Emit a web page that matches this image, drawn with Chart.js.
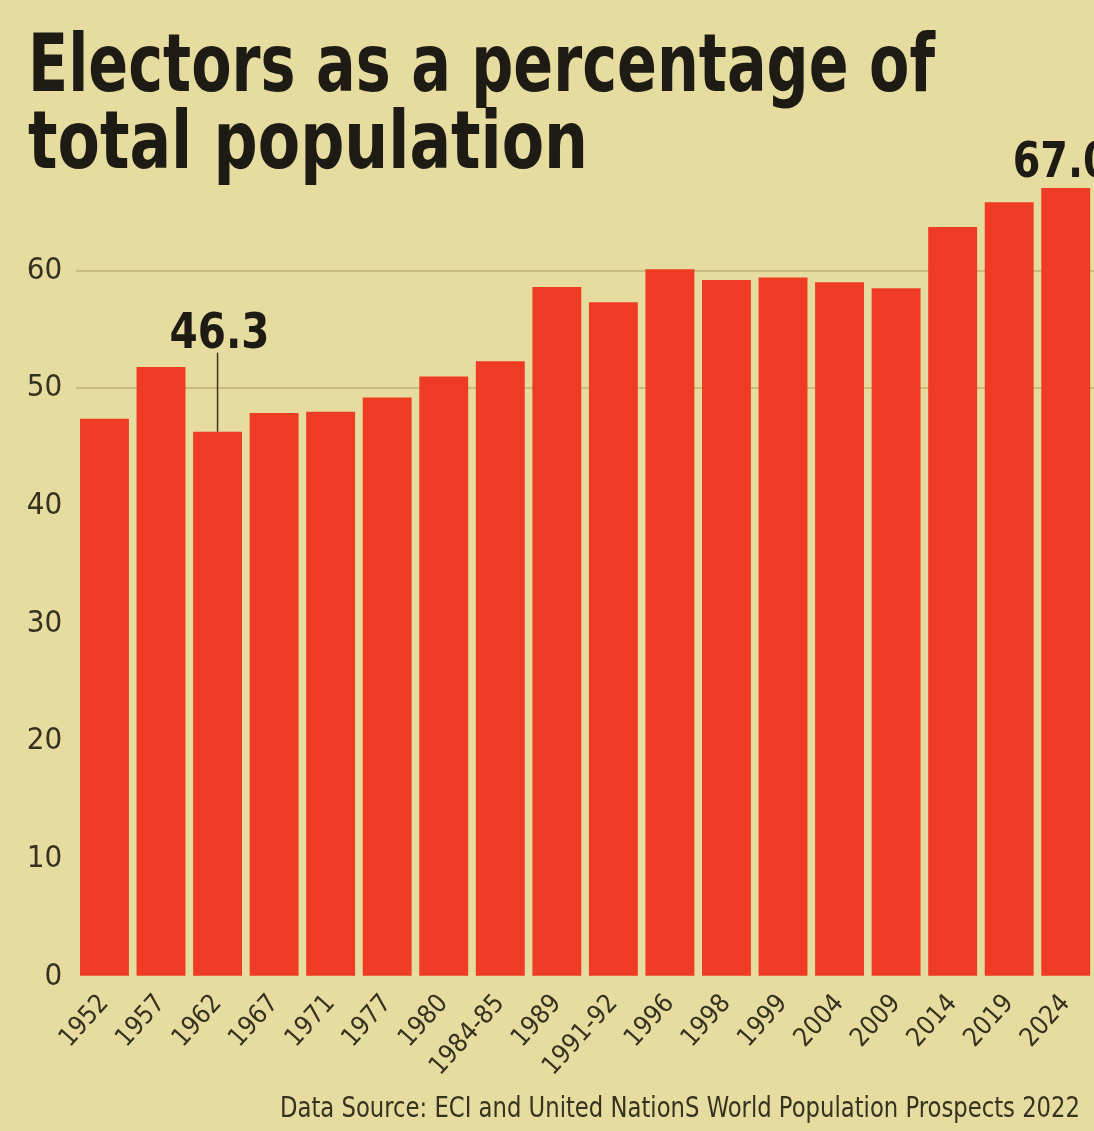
<!DOCTYPE html>
<html>
<head>
<meta charset="utf-8">
<script src="https://cdn.jsdelivr.net/npm/chart.js@4.4.1/dist/chart.umd.min.js"></script>
<style>
    html, body { margin: 0; padding: 0; background: #e6dc9f; }
    #wrap { width: 1094px; height: 1131px; position: relative; }
</style>
</head>
<body>
<div id="wrap"><canvas id="electorsChart"></canvas></div>
<script>
const categories = ["1952", "1957", "1962", "1967", "1971", "1977", "1980", "1984-85", "1989",
    "1991-92", "1996", "1998", "1999", "2004", "2009", "2014", "2019", "2024"];
const electorShare = [47.4, 51.8, 46.3, 47.9, 48.0, 49.2, 51.0, 52.3, 58.6,
    57.3, 60.1, 59.2, 59.4, 59.0, 58.5, 63.7, 65.8, 67.0];
const yTicks = [0, 10, 20, 30, 40, 50, 60];
const calloutYears = ["1962", "2024"];
const titleLines = ["Electors as a percentage of", "total population"];
const sourceNote = "Data Source: ECI and United NationS World Population Prospects 2022";

const narrow = "'Liberation Sans Narrow', 'DejaVu Sans Condensed', 'Roboto Condensed', sans-serif";
const inkColor = "#1e1b14";
const tickColor = "#35321f";

// draw text, squeezing it horizontally if the font comes out too wide
function fitText(ctx, text, x, y, maxW, align) {
    const w = ctx.measureText(text).width;
    const k = w > maxW ? maxW / w : 1;
    ctx.save();
    ctx.translate(x, y);
    ctx.scale(k, 1);
    ctx.textAlign = align;
    ctx.fillText(text, 0, 0);
    ctx.restore();
}

const decorations = {
    id: 'decorations',
    afterDraw(chart) {
        const ctx = chart.ctx;
        const xs = chart.scales.x;
        const ys = chart.scales.y;

        ctx.save();
        ctx.fillStyle = inkColor;
        ctx.textBaseline = 'alphabetic';
        ctx.font = `bold 80px ${narrow}`;
        fitText(ctx, titleLines[0], 28, 91, 907, 'left');
        fitText(ctx, titleLines[1], 28, 168, 560, 'left');

        ctx.fillStyle = tickColor;
        ctx.font = `28px ${narrow}`;
        fitText(ctx, sourceNote, 1080, 1117, 800, 'right');

        // value callouts
        ctx.fillStyle = inkColor;
        ctx.font = `bold 50px ${narrow}`;
        calloutYears.forEach(year => {
            const i = categories.indexOf(year);
            const v = electorShare[i];
            const px = xs.getPixelForValue(i);
            const py = ys.getPixelForValue(v);
            const label = v.toFixed(1);
            if (i === categories.length - 1) {
                fitText(ctx, label, px - 53, py - 11, 98, 'left');
            } else {
                fitText(ctx, label, px + 2, py - 84, 100, 'center');
                ctx.strokeStyle = "#3a3526";
                ctx.lineWidth = 1.5;
                ctx.beginPath();
                ctx.moveTo(px, py - 79);
                ctx.lineTo(px, py);
                ctx.stroke();
            }
        });
        ctx.restore();
    }
};

const ctx = document.getElementById("electorsChart").getContext("2d");

new Chart(ctx, {
    type: 'bar',
    data: {
        labels: categories,
        datasets: [{
            label: 'Electors as % of population',
            data: electorShare,
            backgroundColor: '#ee3b24',
            borderWidth: 0,
            barPercentage: 0.865,
            categoryPercentage: 1.0
        }]
    },
    options: {
        maintainAspectRatio: false,
        responsive: true,
        animation: false,
        layout: {
            padding: { top: 152.8, left: 0, right: 0, bottom: 0 }
        },
        scales: {
            x: {
                grid: { display: false },
                border: { display: false },
                ticks: {
                    color: tickColor,
                    font: { family: narrow, size: 26 },
                    minRotation: 48,
                    maxRotation: 48,
                    padding: 4,
                    autoSkip: false
                },
                afterFit: scale => { scale.height = 154.3; }
            },
            y: {
                min: 0,
                max: 70,
                border: { display: false },
                grid: {
                    // only the upper lines show above the bars
                    color: c => (c.tick && c.tick.value >= 50) ? '#c9bc7c' : 'rgba(0,0,0,0)',
                    lineWidth: 2,
                    drawTicks: false
                },
                ticks: {
                    color: tickColor,
                    font: { family: narrow, size: 31 },
                    padding: 14
                },
                afterBuildTicks: axis => {
                    axis.ticks = yTicks.map(v => ({ value: v }));
                },
                afterFit: scale => { scale.width = 76.2; }
            }
        },
        plugins: {
            legend: { display: false },
            title: { display: false },
            tooltip: { enabled: false }
        }
    },
    plugins: [decorations]
});
</script>
</body>
</html>
